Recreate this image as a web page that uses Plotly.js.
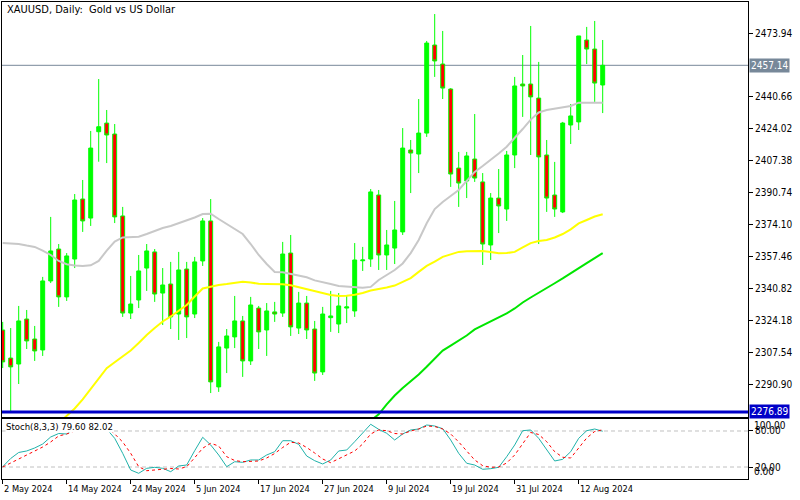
<!DOCTYPE html>
<html>
<head>
<meta charset="utf-8">
<script src="https://cdn.plot.ly/plotly-3.0.1.min.js"></script>
<style>html,body{margin:0;padding:0;background:#fff;}#chart{width:800px;height:500px;}</style>
</head>
<body>
<div id="chart"></div>
<script>
// ---- data ----
const dates = [
"2024-05-02","2024-05-03","2024-05-06","2024-05-07","2024-05-08","2024-05-09","2024-05-10","2024-05-13","2024-05-14","2024-05-15",
"2024-05-16","2024-05-17","2024-05-20","2024-05-21","2024-05-22","2024-05-23","2024-05-24","2024-05-27","2024-05-28","2024-05-29",
"2024-05-30","2024-05-31","2024-06-03","2024-06-04","2024-06-05","2024-06-06","2024-06-07","2024-06-10","2024-06-11","2024-06-12",
"2024-06-13","2024-06-14","2024-06-17","2024-06-18","2024-06-19","2024-06-20","2024-06-21","2024-06-24","2024-06-25","2024-06-26",
"2024-06-27","2024-06-28","2024-07-01","2024-07-02","2024-07-03","2024-07-04","2024-07-05","2024-07-08","2024-07-09","2024-07-10",
"2024-07-11","2024-07-12","2024-07-15","2024-07-16","2024-07-17","2024-07-18","2024-07-19","2024-07-22","2024-07-23","2024-07-24",
"2024-07-25","2024-07-26","2024-07-29","2024-07-30","2024-07-31","2024-08-01","2024-08-02","2024-08-05","2024-08-06","2024-08-07",
"2024-08-08","2024-08-09","2024-08-12","2024-08-13","2024-08-14","2024-08-15"];

const openP = [2319.5,2304.9,2301.8,2325.2,2314.8,2309.1,2345.0,2361.6,2336.7,2356.4,
2387.6,2377.7,2422.6,2427.1,2421.4,2378.8,2328.3,2335.1,2351.7,2360.1,
2338.7,2343.4,2327.8,2351.2,2327.8,2355.4,2376.2,2289.9,2310.1,2315.9,
2324.2,2303.4,2330.9,2319.5,2328.9,2328.3,2359.5,2320.5,2333.5,2320.0,
2297.7,2325.9,2322.6,2330.9,2329.4,2355.5,2356.4,2389.7,2358.5,2362.1,
2370.5,2413.1,2411.0,2421.9,2467.7,2457.8,2444.8,2403.7,2397.0,2408.4,
2396.5,2363.7,2388.1,2382.4,2410.5,2447.4,2447.4,2440.1,2410.5,2389.7,
2380.9,2426.1,2427.7,2470.3,2465.6,2446.9];

const highP = [2323.7,2320.5,2332.0,2329.9,2321.6,2347.1,2378.3,2364.2,2359.5,2390.2,
2397.5,2423.0,2450.0,2433.9,2426.6,2383.5,2347.6,2358.5,2364.2,2361.6,
2351.7,2354.9,2360.1,2354.9,2357.5,2377.7,2387.6,2313.3,2320.0,2337.2,
2326.8,2336.7,2332.0,2333.5,2334.1,2365.3,2368.9,2339.3,2337.2,2324.2,
2331.5,2339.8,2338.7,2337.7,2364.7,2362.7,2392.8,2392.3,2371.5,2386.6,
2424.5,2418.3,2439.6,2469.8,2483.8,2475.0,2445.3,2412.1,2412.1,2431.8,
2401.1,2390.7,2403.2,2412.6,2451.1,2462.5,2477.6,2458.9,2418.3,2406.9,
2427.7,2437.0,2472.4,2477.1,2480.2,2470.3];

const lowP = [2299.7,2276.9,2291.4,2309.6,2303.4,2306.0,2343.9,2331.5,2334.6,2351.7,
2370.5,2373.6,2407.0,2406.3,2375.1,2326.3,2325.2,2330.9,2339.8,2334.1,
2322.1,2320.0,2314.3,2315.3,2325.7,2352.8,2286.7,2287.3,2297.1,2310.1,
2295.1,2301.3,2309.6,2306.0,2323.7,2326.3,2316.4,2317.4,2314.8,2293.0,
2296.1,2318.5,2317.9,2323.1,2326.3,2350.2,2352.3,2350.7,2350.7,2353.8,
2368.9,2390.7,2401.1,2419.9,2451.1,2439.6,2393.9,2383.5,2388.1,2396.5,
2353.3,2355.9,2369.9,2376.2,2403.7,2430.3,2410.5,2364.2,2380.9,2378.3,
2380.3,2416.2,2423.5,2457.8,2438.1,2432.3];

const closeP = [2302.9,2300.3,2324.2,2313.8,2308.6,2345.0,2360.6,2336.7,2358.0,2387.1,
2376.2,2414.1,2425.2,2420.9,2378.3,2328.3,2333.0,2350.2,2360.6,2338.2,
2342.9,2326.3,2350.7,2326.3,2354.9,2376.2,2292.5,2310.7,2316.4,2324.2,
2303.4,2332.5,2318.5,2329.4,2327.8,2359.0,2321.1,2333.5,2319.5,2297.1,
2327.8,2326.8,2332.0,2331.5,2355.9,2355.9,2391.3,2358.5,2363.7,2371.5,
2414.1,2411.5,2421.9,2468.7,2459.4,2445.3,2400.6,2395.9,2410.0,2398.5,
2364.2,2388.1,2384.0,2410.5,2446.4,2446.4,2440.7,2409.5,2388.1,2382.4,
2427.1,2430.8,2472.4,2465.6,2447.9,2457.14];

const maGray = [2364.7,2364.5,2364.2,2363.4,2362.7,2360.8,2358.5,2355.4,2353.7,2353.0,
2352.8,2353.1,2355.4,2360.8,2365.5,2367.6,2367.9,2368.0,2369.4,2371.0,
2372.5,2373.6,2375.1,2376.2,2378.0,2379.8,2380.0,2377.2,2374.6,2372.0,
2369.4,2364.2,2358.5,2353.8,2349.7,2349.5,2348.6,2347.6,2346.9,2345.3,
2344.5,2343.4,2342.4,2342.2,2342.0,2341.5,2341.9,2345.5,2348.1,2350.7,
2354.1,2359.5,2366.3,2375.0,2382.4,2386.1,2389.2,2392.3,2397.0,2401.7,
2404.8,2407.9,2411.3,2414.8,2419.3,2424.0,2428.9,2432.6,2433.9,2434.6,
2435.2,2436.0,2437.7,2437.7,2437.7,2437.7];

const maYellow = [null,null,null,null,null,null,null,
2271.0,2274.8,2278.7,2283.4,2288.8,2294.5,2299.6,2302.7,2305.8,
2308.8,2312.7,2316.9,2320.5,2323.9,2326.5,2329.6,2332.5,2336.9,2341.1,
2342.0,2342.9,2343.4,2343.9,2344.6,2344.2,2343.5,2343.4,2343.4,2343.3,
2342.8,2341.8,2340.8,2339.6,2338.6,2337.7,2337.2,2337.3,2337.8,2338.7,
2340.0,2340.7,2341.6,2342.6,2344.7,2346.5,2349.7,2352.8,2355.1,2357.5,
2358.8,2360.1,2360.5,2360.7,2360.6,2360.1,2359.4,2359.5,2360.1,2362.4,
2364.7,2365.8,2366.3,2367.6,2369.4,2371.8,2374.9,2376.7,2378.5,2379.7];

const maGreen = [null,null,null,null,null,null,null,null,null,null,
null,null,null,null,null,null,null,null,null,null,
null,null,null,null,null,null,null,null,null,null,
null,null,null,null,null,null,null,null,null,null,
null,null,null,null,null,null,
2272.4,2275.6,2280.8,2285.4,2289.3,2292.7,2296.4,2300.4,2304.7,2308.8,
2311.4,2313.9,2316.6,2319.8,2321.8,2324.0,2326.0,2328.1,2330.7,2333.8,
2336.4,2339.0,2341.3,2343.8,2346.3,2349.1,2351.7,2354.3,2356.9,2359.5];

const stochK = [20.5,34.2,44.2,46.7,51.7,58.3,70.0,75.8,75.0,85.0,
88.3,91.7,93.3,83.3,67.8,42.8,15.0,9.5,17.8,19.5,
17.8,12.2,21.7,23.3,47.2,69.5,56.7,40.0,20.5,28.8,
27.8,31.7,31.7,40.0,45.5,63.8,63.8,57.8,38.3,30.5,
25.0,31.7,46.7,48.3,62.2,76.2,91.2,82.8,76.2,65.0,
75.0,81.7,83.3,90.0,88.3,83.8,65.0,42.8,26.2,23.3,
16.2,17.2,19.5,37.2,56.7,80.5,81.7,67.8,48.3,30.0,
32.8,45.5,67.8,80.5,83.3,79.6];

const stochD = [20.0,26.7,33.3,39.2,46.7,53.3,61.7,71.7,75.0,80.0,
85.0,90.0,90.0,86.7,75.0,61.7,42.8,20.5,13.8,15.0,
16.7,17.5,16.7,20.5,35.5,51.3,59.5,55.0,37.2,30.8,
28.8,29.2,30.0,35.0,42.5,52.5,61.2,60.0,52.5,43.3,
33.3,27.2,33.3,40.0,46.7,58.3,75.0,81.7,80.5,75.8,
75.0,80.0,83.3,88.3,87.5,83.3,75.0,61.7,46.7,31.7,
22.2,19.5,20.0,26.7,40.0,58.3,77.5,74.2,62.2,45.5,
36.2,35.0,51.2,68.3,79.2,82.0];

const priceTicks = [2473.94,2440.66,2424.02,2407.38,2390.74,2374.10,2357.46,2340.82,2324.18,2307.54,2290.90];
const stochTicks = [20,80];
const stochTickText = ["20.00","80.00"];
const stochEdgeTicks = [100,0];
const stochEdgeText = ["100.00","0.00"];
const dateTicks = ["2024-05-02","2024-05-14","2024-05-24","2024-06-05","2024-06-17","2024-06-27","2024-07-09","2024-07-19","2024-07-31","2024-08-12"];
const dateTickText = ["2 May 2024","14 May 2024","24 May 2024","5 Jun 2024","17 Jun 2024","27 Jun 2024","9 Jul 2024","19 Jul 2024","31 Jul 2024","12 Aug 2024"];
const lastPrice = 2457.14;
const lowLine = 2276.89;
const titleText = "XAUUSD, Daily:&nbsp; Gold vs US Dollar";
const stochLabel = "Stoch(8,3,3) 79.60 82.02";

// ---- chart ----
const FONT = "DejaVu Sans Condensed, Liberation Sans, sans-serif";
const traces = [
  {type:"scatter", mode:"lines", x:dates, y:maGray, line:{color:"#c8c8c8", width:2}, xaxis:"x", yaxis:"y", hoverinfo:"skip"},
  {type:"scatter", mode:"lines", x:dates, y:maYellow, line:{color:"#ffff00", width:2}, xaxis:"x", yaxis:"y", hoverinfo:"skip"},
  {type:"scatter", mode:"lines", x:dates, y:maGreen, line:{color:"#00e600", width:2}, xaxis:"x", yaxis:"y", hoverinfo:"skip"},
  {type:"candlestick", x:dates, open:openP, high:highP, low:lowP, close:closeP, xaxis:"x", yaxis:"y",
   whiskerwidth:0,
   increasing:{line:{color:"#00ff00", width:1}, fillcolor:"#00ff00"},
   decreasing:{line:{color:"#00ff00", width:1}, fillcolor:"#ff0000"}},
  {type:"scatter", mode:"lines", x:dates, y:stochK, line:{color:"#20b2aa", width:1}, xaxis:"x2", yaxis:"y2", hoverinfo:"skip"},
  {type:"scatter", mode:"lines", x:dates, y:stochD, line:{color:"#ff0000", width:1, dash:"3px,3px"}, xaxis:"x2", yaxis:"y2", hoverinfo:"skip"}
];

const xr = [-0.0875, 93.1625];
const annotations = [
  {xref:"paper", yref:"paper", x:0.004, y:0.985, xanchor:"left", yanchor:"middle", text:titleText, showarrow:false,
   font:{family:FONT, size:11, color:"#000"}},
  {xref:"paper", yref:"y2", x:0.004, y:88, xanchor:"left", yanchor:"middle", text:stochLabel, showarrow:false,
   bgcolor:"#ffffff", borderpad:0, font:{family:FONT, size:9.5, color:"#000"}},
  {xref:"paper", yref:"y", x:1, y:lastPrice, xanchor:"left", yanchor:"middle", xshift:1, text:lastPrice.toFixed(2), showarrow:false,
   bgcolor:"#778899", borderpad:1, font:{family:FONT, size:10, color:"#ffffff"}},
  {xref:"paper", yref:"y", x:1, y:lowLine, xanchor:"left", yanchor:"middle", xshift:1, text:lowLine.toFixed(2), showarrow:false,
   bgcolor:"#0000c8", borderpad:1, font:{family:FONT, size:10, color:"#ffffff"}},
  {xref:"paper", yref:"y2", x:1, y:stochEdgeTicks[0], xanchor:"left", yanchor:"top", xshift:4, yshift:1, text:stochEdgeText[0], showarrow:false,
   font:{family:FONT, size:10, color:"#000"}},
  {xref:"paper", yref:"y2", x:1, y:stochEdgeTicks[1], xanchor:"left", yanchor:"bottom", xshift:4, yshift:0, text:stochEdgeText[1], showarrow:false,
   font:{family:FONT, size:10, color:"#000"}}
];
dateTicks.forEach((d, k) => {
  annotations.push({xref:"x2", yref:"paper", x:d, y:-0.0045, xanchor:"left", yanchor:"top", xshift:-1, text:dateTickText[k],
    showarrow:false, font:{family:FONT, size:9.2, color:"#000"}});
});

const layout = {
  width:800, height:500,
  margin:{l:2, r:52, t:2, b:21, pad:0},
  paper_bgcolor:"#ffffff", plot_bgcolor:"#ffffff",
  showlegend:false,
  font:{family:FONT, size:10, color:"#000"},
  xaxis:{type:"category", range:xr, domain:[0,1], anchor:"y", showticklabels:false, ticks:"",
         showgrid:false, zeroline:false, showline:true, mirror:true, linecolor:"#000", linewidth:1,
         rangeslider:{visible:false}, fixedrange:true},
  xaxis2:{type:"category", matches:"x", range:xr, domain:[0,1], anchor:"y2", showgrid:false, zeroline:false,
          showline:true, mirror:true, linecolor:"#000", linewidth:1,
          tickmode:"array", tickvals:dateTicks, ticktext:dateTickText, showticklabels:false,
          ticks:"outside", ticklen:4, tickcolor:"#000", fixedrange:true},
  yaxis:{domain:[0.13,1], range:[2274.25,2490.06], side:"right", anchor:"x", showgrid:false, zeroline:false,
         showline:true, mirror:true, linecolor:"#000", linewidth:1,
         tickmode:"array", tickvals:priceTicks, ticktext:priceTicks.map(v=>v.toFixed(2)),
         ticks:"outside", ticklen:4, tickcolor:"#000", tickfont:{family:FONT, size:10, color:"#000"}, fixedrange:true},
  yaxis2:{domain:[0,0.1258], range:[0,100], side:"right", anchor:"x2", showgrid:false, zeroline:false,
          showline:true, mirror:true, linecolor:"#000", linewidth:1,
          tickmode:"array", tickvals:stochTicks, ticktext:stochTickText,
          ticks:"outside", ticklen:4, tickcolor:"#000", tickfont:{family:FONT, size:10, color:"#000"}, fixedrange:true},
  shapes:[
    {type:"line", xref:"paper", x0:0, x1:1, yref:"y", y0:lastPrice, y1:lastPrice, line:{color:"#778899", width:1}, layer:"below"},
    {type:"line", xref:"paper", x0:0, x1:1, yref:"y", y0:lowLine, y1:lowLine, line:{color:"#0000c8", width:3}},
    {type:"line", xref:"paper", x0:0, x1:1, yref:"y2", y0:80, y1:80, line:{color:"#c0c0c0", width:1, dash:"4px,3px"}, layer:"below"},
    {type:"line", xref:"paper", x0:0, x1:1, yref:"y2", y0:20, y1:20, line:{color:"#c0c0c0", width:1, dash:"4px,3px"}, layer:"below"}
  ],
  annotations:annotations
};

Plotly.newPlot("chart", traces, layout, {staticPlot:true, displayModeBar:false});
</script>
</body>
</html>
